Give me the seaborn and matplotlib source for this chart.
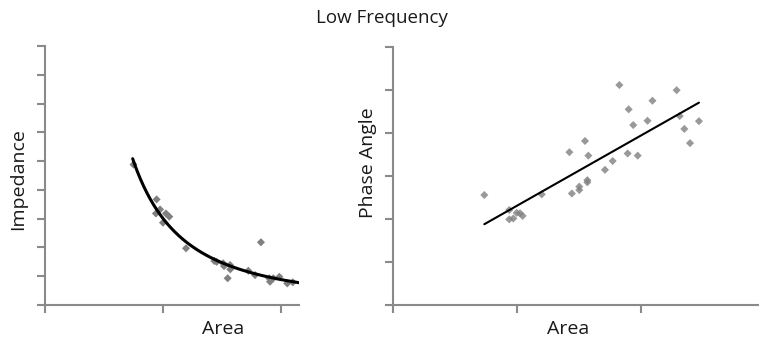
import numpy as np
import pandas as pd
import matplotlib
matplotlib.use("Agg")
import matplotlib.pyplot as plt
import seaborn as sns

sns.set_theme(style="white")
plt.rcParams['font.family'] = ['Open Sans', 'DejaVu Sans']

# ---- data (arbitrary units) ----
imp_area = [0.75, 0.946, 0.975, 0.94, 1.025, 1.053, 1.0, 1.195, 1.435, 1.455, 1.51,
            1.517, 1.568, 1.57, 1.548, 1.723, 1.78, 1.83, 1.90, 1.907, 1.935, 1.986,
            2.053, 2.10]
imp_val = [4.88, 3.67, 3.32, 3.18, 3.18, 3.07, 2.86, 1.97, 1.53, 1.50, 1.45,
           1.35, 1.39, 1.24, 0.93, 1.19, 1.04, 2.18, 0.93, 0.81, 0.93, 0.98,
           0.75, 0.79]

pa_area = [0.734, 0.935, 0.935, 0.968, 0.995, 1.022, 1.043, 1.197, 1.42, 1.44,
           1.50, 1.50, 1.546, 1.573, 1.565, 1.565, 1.707, 1.769, 1.823, 1.898,
           1.89, 1.935, 1.971, 2.05, 2.09, 2.285, 2.31, 2.347, 2.393, 2.465]
pa_val = [2.555, 2.207, 1.99, 2.01, 2.14, 2.13, 2.07, 2.57, 3.55, 2.59,
          2.75, 2.67, 3.81, 3.47, 2.90, 2.85, 3.14, 3.345, 5.11, 4.545,
          3.52, 4.18, 3.47, 4.28, 4.745, 4.99, 4.39, 4.09, 3.76, 4.27]

title = "Low Frequency"
x_label = "Area"
y_label_left = "Impedance"
y_label_right = "Phase Angle"

left_xticks = [0, 1, 2]
left_yticks = list(range(0, 10))
right_xticks = [0, 1, 2]
right_yticks = list(range(0, 7))

df_imp = pd.DataFrame({"Area": imp_area, "Impedance": imp_val})
df_pa = pd.DataFrame({"Area": pa_area, "Phase Angle": pa_val})

# ---- styling ----
W, H = 759, 340
fig = plt.figure(figsize=(W / 100, H / 100), dpi=100)
spine_c = "#8a8a8a"
mark_c = "#808080"
label_fs = 14
txt_c = "#1a1a1a"
msize = 17

def style_axis(ax):
    sns.despine(ax=ax)
    for s in ("left", "bottom"):
        ax.spines[s].set_color(spine_c)
        ax.spines[s].set_linewidth(1.5)
    ax.tick_params(axis="both", which="both", direction="out", length=6,
                   width=1.5, color=spine_c, labelleft=False, labelbottom=False,
                   left=True, bottom=True)
    ax.set_facecolor("white")

# Left panel
ax1 = fig.add_axes([45 / W, 1 - 305 / H, 254 / W, 259 / H])
sns.scatterplot(data=df_imp, x="Area", y="Impedance", ax=ax1, marker="D",
                s=msize, color=mark_c, edgecolor="none", linewidth=0, zorder=3)
ax1.set_xlim(0, 254 / 118)
ax1.set_ylim(0, 9)
# power-law trendline fitted to the data
b, loga = np.polyfit(np.log(df_imp["Area"]), np.log(df_imp["Impedance"]), 1)
xs = np.linspace(min(imp_area) - 0.007, ax1.get_xlim()[1], 200)
sns.lineplot(x=xs, y=np.exp(loga) * xs ** b, ax=ax1, color="black", lw=2.2, zorder=4)
ax1.set_xticks(left_xticks)
ax1.set_yticks(left_yticks)
style_axis(ax1)
ax1.set_xlabel(x_label, fontsize=label_fs, color=txt_c)
ax1.set_ylabel(y_label_left, fontsize=label_fs, color=txt_c)
ax1.xaxis.set_label_coords((223 - 45) / 254, (305 - 320) / 259)
ax1.yaxis.set_label_coords((27 - 45) / 254, (305 - 179) / 259)

# Right panel
ax2 = fig.add_axes([393.3 / W, 1 - 305 / H, (W - 393.3) / W, 258.3 / H])
sns.regplot(data=df_pa, x="Area", y="Phase Angle", ax=ax2, ci=None,
            marker="D", color=mark_c,
            scatter_kws=dict(s=msize, color=mark_c, edgecolor="none", linewidths=0, zorder=3),
            line_kws=dict(color="black", lw=1.5, zorder=4))
ax2.set_xlim(0, (W - 393.3) / 124)
ax2.set_ylim(0, 6)
ax2.set_xticks(right_xticks)
ax2.set_yticks(right_yticks)
style_axis(ax2)
ax2.set_xlabel(x_label, fontsize=label_fs, color=txt_c)
ax2.set_ylabel(y_label_right, fontsize=label_fs, color=txt_c)
ax2.xaxis.set_label_coords((568 - 393.3) / 365.7, (305 - 320) / 258.3)
ax2.yaxis.set_label_coords((377 - 393.3) / 365.7, (305 - 163) / 258.3)

fig.text(382 / W, 1 - 18 / H, title, ha="center", va="center", fontsize=13.5,
         color=txt_c)

fig.savefig("out.png", dpi=100, facecolor="white")
